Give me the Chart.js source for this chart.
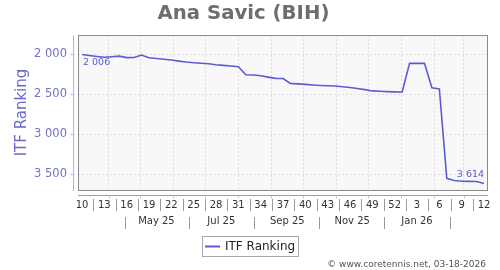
<!DOCTYPE html>
<html>
<head>
<meta charset="utf-8">
<title>Ana Savic (BIH)</title>
<script src="https://cdn.jsdelivr.net/npm/chart.js@4.4.1/dist/chart.umd.min.js"></script>
<style>
  html, body { margin: 0; padding: 0; background: #fff; }
</style>
</head>
<body>
<canvas id="rankChart" width="500" height="270"></canvas>
<script>
  const playerName  = 'Ana Savic (BIH)';
  const seriesLabel = 'ITF Ranking';
  const footerText  = '\u00a9 www.coretennis.net, 03-18-2026';
  const firstDate   = Date.UTC(2025, 2, 7);   // first ranking week shown

  const weekTicks  = [10, 13, 16, 19, 22, 25, 28, 31, 34, 37, 40, 43, 46, 49, 52, 3, 6, 9, 12];
  const monthTicks = ['May 25', 'Jul 25', 'Sep 25', 'Nov 25', 'Jan 26'];
  const rankTicks  = [2000, 2500, 3000, 3500];

  // one value per week, week 10/2025 .. week 12/2026
  const ranking = [
    2006, 2018, 2030, 2040, 2034, 2026, 2045, 2044, 2012, 2046,
    2055, 2065, 2075, 2088, 2100, 2108, 2114, 2122, 2133, 2141,
    2150, 2158, 2258, 2262, 2270, 2288, 2304, 2305, 2366, 2372,
    2378, 2386, 2392, 2396, 2399, 2408, 2418, 2430, 2444, 2460,
    2465, 2469, 2472, 2474, 2116, 2114, 2116, 2420, 2436, 3550,
    3578, 3586, 3588, 3590, 3614
  ];

  const lineColor = '#5c5cd4';
  const FONT = 'DejaVu Sans';
  const DAY  = 86400000;

  const dayOf = (y, m, d) => (Date.UTC(y, m, d) - firstDate) / DAY;
  const fmt   = n => String(n).replace(/\B(?=(\d{3})+(?!\d))/g, ' ');

  const weekPos = weekTicks.map((_, k) => k * 21);
  const monthStarts = [];
  for (let m = 3; m <= 14; m++) monthStarts.push(dayOf(2025, m, 1));
  const monthMids = monthTicks.map((_, k) => dayOf(2025, 4 + 2 * k, 16));
  const monthSeps = [];
  for (let k = 0; k <= monthTicks.length; k++) monthSeps.push(dayOf(2025, 3 + 2 * k, 16));

  const xMin = -3.76, xMax = 380.8;

  Chart.defaults.font.family = FONT;

  function vline(ctx, x, y1, y2) {
    ctx.beginPath(); ctx.moveTo(x, y1); ctx.lineTo(x, y2); ctx.stroke();
  }
  function hline(ctx, x1, x2, y) {
    ctx.beginPath(); ctx.moveTo(x1, y); ctx.lineTo(x2, y); ctx.stroke();
  }

  const decor = {
    id: 'decor',
    beforeDraw(chart) {
      const { ctx, chartArea: a } = chart;
      ctx.save();
      ctx.fillStyle = '#f8f8f8';
      ctx.fillRect(a.left, a.top, a.right - a.left, a.bottom - a.top);
      ctx.restore();
    },
    beforeDatasetsDraw(chart) {
      const { ctx, chartArea: a } = chart;
      ctx.save();
      ctx.strokeStyle = '#8a8a8a';
      ctx.lineWidth = 1;
      ctx.strokeRect(a.left + 0.5, a.top + 0.5, a.right - a.left, a.bottom - a.top);
      ctx.restore();
    },
    afterDatasetsDraw(chart) {
      const { ctx } = chart;
      const pts = chart.getDatasetMeta(0).data;
      const first = pts[0], last = pts[pts.length - 1];
      ctx.save();
      ctx.font = '9.5px ' + FONT;
      ctx.fillStyle = lineColor;
      ctx.textBaseline = 'middle';
      ctx.textAlign = 'left';
      ctx.fillText(fmt(ranking[0]), first.x + 1, first.y + 8);
      ctx.textAlign = 'right';
      ctx.fillText(fmt(ranking[ranking.length - 1]), last.x, last.y - 9);
      ctx.restore();
    },
    afterDraw(chart) {
      const { ctx, chartArea: a, scales } = chart;
      const sx = scales.x, sy = scales.y;
      ctx.save();
      ctx.lineWidth = 1;

      // offset y axis + small ticks
      ctx.strokeStyle = '#b4b4e2';
      const ax = a.left - 5 + 0.5;
      vline(ctx, ax, a.top, a.bottom + 1);
      rankTicks.forEach(v => {
        const yy = Math.round(sy.getPixelForValue(v)) + 0.5;
        hline(ctx, ax - 3, ax + 1, yy);
      });

      // offset x axis
      ctx.strokeStyle = '#a0a0a0';
      const ay = a.bottom + 5 + 0.5;
      hline(ctx, a.left, a.right + 1, ay);
      ctx.strokeStyle = '#c8c8c8';
      monthStarts.forEach(v => {
        const xx = Math.round(sx.getPixelForValue(v)) + 0.5;
        if (xx > a.left && xx < a.right) vline(ctx, xx, ay, ay + 3);
      });

      // separators between week numbers and between month labels
      ctx.strokeStyle = '#9a9a9a';
      for (let k = 0; k < weekPos.length - 1; k++) {
        const xx = Math.round(sx.getPixelForValue(weekPos[k] + 10.5)) + 0.5;
        vline(ctx, xx, a.bottom + 9, a.bottom + 21);
      }
      monthSeps.forEach(v => {
        const xx = Math.round(sx.getPixelForValue(v)) + 0.5;
        vline(ctx, xx, a.bottom + 27, a.bottom + 39);
      });

      // legend box
      ctx.font = '12px ' + FONT;
      const tw = ctx.measureText(seriesLabel).width;
      const bw = Math.round(tw + 26);
      const bl = Math.round((chart.width - bw) / 2);
      ctx.strokeStyle = '#a8a8a8';
      ctx.strokeRect(bl + 0.5, 236.5, bw, 20);
      ctx.strokeStyle = lineColor;
      ctx.lineWidth = 2;
      hline(ctx, bl + 3, bl + 18, 246.5);
      ctx.fillStyle = '#222';
      ctx.textBaseline = 'middle';
      ctx.textAlign = 'left';
      ctx.fillText(seriesLabel, bl + 23, 247);

      // footer
      ctx.font = '9px ' + FONT;
      ctx.fillStyle = '#555';
      ctx.textAlign = 'right';
      ctx.fillText(footerText, 486, 264.5);
      ctx.restore();
    }
  };

  new Chart(document.getElementById('rankChart'), {
    type: 'line',
    data: {
      datasets: [{
        label: seriesLabel,
        data: ranking.map((r, i) => ({ x: i * 7, y: r })),
        borderColor: lineColor,
        backgroundColor: lineColor,
        borderWidth: 1.6,
        pointRadius: 0,
        tension: 0,
        fill: false,
        xAxisID: 'x',
        yAxisID: 'y'
      }]
    },
    options: {
      responsive: false,
      animation: false,
      layout: { padding: { left: 0, right: 13, top: 0, bottom: 41 } },
      plugins: {
        legend: { display: false },
        tooltip: { enabled: false },
        title: {
          display: true,
          text: playerName,
          color: '#6e6e6e',
          font: { size: 19.7, weight: 'bold', family: FONT },
          padding: { top: 2, bottom: 9.4 }
        }
      },
      scales: {
        x: {
          type: 'linear', position: 'bottom', weight: 1,
          min: xMin, max: xMax,
          grid: { display: false, drawTicks: false },
          border: { display: false },
          afterBuildTicks: s => { s.ticks = weekPos.map(v => ({ value: v })); },
          afterFit: s => { s.height = 22; },
          ticks: {
            autoSkip: false, maxRotation: 0, padding: 9,
            color: '#333', font: { size: 10 },
            callback: (v, i) => weekTicks[i]
          }
        },
        xg: {
          type: 'linear', position: 'bottom', weight: 0,
          min: xMin, max: xMax,
          grid: { color: '#dcdcdc', drawTicks: false },
          border: { display: false, dash: [2, 2] },
          ticks: { display: false },
          afterBuildTicks: s => { s.ticks = monthStarts.map(v => ({ value: v })); },
          afterFit: s => { s.height = 0; }
        },
        xm: {
          type: 'linear', position: 'bottom', weight: 2,
          min: xMin, max: xMax,
          grid: { display: false, drawTicks: false },
          border: { display: false },
          afterBuildTicks: s => { s.ticks = monthMids.map(v => ({ value: v })); },
          afterFit: s => { s.height = 17; },
          ticks: {
            autoSkip: false, maxRotation: 0, padding: 3.5,
            color: '#333', font: { size: 10 },
            callback: (v, i) => monthTicks[i]
          }
        },
        y: {
          reverse: true,
          min: 1763, max: 3696,
          grid: { color: '#dcdcdc', drawTicks: false },
          border: { display: false, dash: [2, 2] },
          afterBuildTicks: s => { s.ticks = rankTicks.map(v => ({ value: v })); },
          afterFit: s => { s.width = 78; },
          ticks: {
            padding: 11, color: '#7272cc', font: { size: 11.5 },
            callback: v => fmt(v)
          },
          title: {
            display: true, text: seriesLabel, color: '#6666cc',
            font: { size: 15 }, padding: { top: 13, bottom: 0 }
          }
        }
      }
    },
    plugins: [decor]
  });
</script>
</body>
</html>
